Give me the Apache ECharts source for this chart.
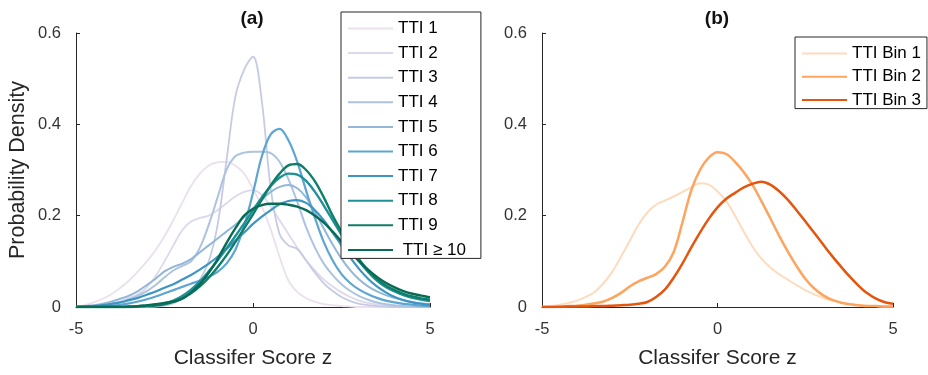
<!DOCTYPE html>
<html>
<head>
<meta charset="utf-8">
<script src="https://cdn.jsdelivr.net/npm/echarts@6/dist/echarts.min.js"></script>
<style>html,body{margin:0;padding:0;background:#fff}#c{width:928px;height:375px}</style>
</head>
<body>
<div id="c"></div>
<script>
// classifier score grid
const zGrid = [-5,-4.75,-4.5,-4.25,-4,-3.75,-3.5,-3.25,-3,-2.75,-2.5,-2.25,-2,-1.75,-1.5,-1.25,-1,-0.75,-0.5,-0.25,0,0.25,0.5,0.75,1,1.25,1.5,1.75,2,2.25,2.5,2.75,3,3.25,3.5,3.75,4,4.25,4.5,4.75,5];
const xTicks = [-5, 0, 5];
const yTicks = [0, 0.2, 0.4, 0.6];

const ttiNames = ['TTI 1','TTI 2','TTI 3','TTI 4','TTI 5','TTI 6','TTI 7','TTI 8','TTI 9',' TTI \u2265 10'];
const tti1 = [0,0.004,0.01,0.018,0.028,0.042,0.058,0.078,0.1,0.125,0.155,0.19,0.228,0.265,0.292,0.31,0.317,0.318,0.31,0.292,0.258,0.22,0.17,0.11,0.058,0.033,0.019,0.011,0.006,0.004,0.002,0.001,0,0,0,0,0,0,0,0,0];
const tti2 = [0,0,0.002,0.004,0.007,0.012,0.02,0.028,0.043,0.068,0.1,0.135,0.168,0.187,0.195,0.2,0.212,0.227,0.242,0.252,0.256,0.245,0.22,0.19,0.16,0.13,0.102,0.08,0.06,0.045,0.032,0.022,0.014,0.009,0.005,0.003,0.002,0.001,0.001,0,0];
const tti3 = [0,0,0,0,0,0,0,0,0,0.001,0.003,0.008,0.018,0.035,0.06,0.1,0.18,0.32,0.46,0.52,0.548,0.45,0.26,0.16,0.135,0.127,0.102,0.075,0.052,0.035,0.022,0.013,0.007,0.004,0.002,0.001,0,0,0,0,0];
const tti4 = [0,0.001,0.002,0.004,0.007,0.011,0.017,0.025,0.035,0.048,0.065,0.08,0.09,0.1,0.13,0.18,0.24,0.3,0.33,0.338,0.34,0.34,0.337,0.318,0.28,0.23,0.175,0.13,0.095,0.07,0.05,0.035,0.024,0.016,0.01,0.006,0.004,0.002,0.001,0,0];
const tti5 = [0,0.002,0.004,0.007,0.012,0.018,0.025,0.035,0.048,0.062,0.078,0.088,0.095,0.105,0.12,0.135,0.15,0.165,0.18,0.197,0.215,0.235,0.252,0.263,0.267,0.26,0.24,0.208,0.172,0.137,0.106,0.08,0.06,0.045,0.034,0.026,0.02,0.015,0.011,0.008,0.006];
const tti6 = [0,0.001,0.001,0.002,0.003,0.005,0.008,0.012,0.017,0.023,0.03,0.037,0.044,0.051,0.058,0.066,0.077,0.095,0.125,0.178,0.25,0.33,0.378,0.39,0.365,0.318,0.255,0.195,0.142,0.102,0.072,0.052,0.038,0.028,0.02,0.014,0.01,0.007,0.005,0.003,0.002];
const tti7 = [0,0.001,0.002,0.004,0.007,0.01,0.015,0.02,0.027,0.034,0.042,0.05,0.06,0.07,0.082,0.095,0.11,0.127,0.145,0.163,0.182,0.198,0.212,0.225,0.232,0.234,0.228,0.212,0.19,0.163,0.135,0.108,0.083,0.062,0.045,0.032,0.022,0.015,0.01,0.007,0.005];
const tti8 = [0,0,0,0,0,0,0,0.001,0.002,0.004,0.008,0.014,0.024,0.038,0.056,0.078,0.102,0.128,0.155,0.183,0.212,0.24,0.265,0.283,0.292,0.29,0.276,0.252,0.222,0.19,0.158,0.128,0.1,0.077,0.058,0.044,0.034,0.026,0.02,0.016,0.013];
const tti9 = [0,0,0,0,0,0,0,0.001,0.002,0.003,0.006,0.011,0.019,0.03,0.045,0.064,0.087,0.113,0.142,0.172,0.203,0.235,0.266,0.292,0.31,0.313,0.3,0.275,0.24,0.2,0.165,0.132,0.104,0.08,0.061,0.047,0.037,0.029,0.023,0.019,0.016];
const tti10 = [0,0,0,0,0,0,0.001,0.002,0.004,0.006,0.009,0.012,0.018,0.032,0.05,0.075,0.105,0.14,0.172,0.2,0.215,0.223,0.226,0.226,0.224,0.22,0.212,0.2,0.185,0.165,0.143,0.12,0.1,0.082,0.066,0.053,0.043,0.035,0.029,0.025,0.021];

const binNames = ['TTI Bin 1','TTI Bin 2','TTI Bin 3'];
const bin1 = [0,0.002,0.005,0.009,0.014,0.022,0.033,0.052,0.077,0.11,0.145,0.18,0.207,0.224,0.233,0.242,0.252,0.262,0.271,0.268,0.253,0.232,0.2,0.165,0.132,0.106,0.087,0.072,0.06,0.048,0.037,0.028,0.02,0.014,0.01,0.007,0.005,0.003,0.002,0.001,0.001];
const bin2 = [0,0,0.001,0.002,0.003,0.005,0.008,0.012,0.02,0.031,0.045,0.056,0.064,0.072,0.088,0.12,0.185,0.255,0.3,0.327,0.339,0.335,0.318,0.295,0.267,0.232,0.195,0.157,0.122,0.09,0.062,0.041,0.026,0.016,0.01,0.006,0.004,0.002,0.002,0.001,0.001];
const bin3 = [0,0,0,0.001,0.001,0.001,0.002,0.002,0.003,0.004,0.005,0.007,0.011,0.022,0.038,0.064,0.095,0.13,0.163,0.193,0.218,0.237,0.25,0.262,0.27,0.274,0.268,0.254,0.235,0.212,0.188,0.163,0.138,0.113,0.09,0.068,0.048,0.031,0.019,0.011,0.007];

const ttiData = [tti1,tti2,tti3,tti4,tti5,tti6,tti7,tti8,tti9,tti10];
const binData = [bin1,bin2,bin3];
const ttiColors = ['#ebe0ee','#dcd9ec','#c6cbe3','#adc3df','#92b7d9','#5ea5d1','#3e95c4','#1f8f98','#0f7e69','#086b55'];
const ttiWidths = [1.8,1.8,1.8,2,2,2.2,2.2,2.4,2.4,2.4];
const binColors = ['#fddcbd','#fda45e','#e6550d'];
const binWidths = [2,2.5,2.5];

const FONT = 'Liberation Sans, Arial, Helvetica, sans-serif';
const axisColor = '#262626';

function mkX(gi){
  return {
    type:'value', gridIndex:gi, min:-5, max:5, interval:5,
    name:'Classifer Score z', nameLocation:'middle', nameGap:41,
    nameTextStyle:{fontFamily:FONT, fontSize:21, color:'#262626'},
    axisLine:{onZero:false, lineStyle:{color:axisColor, width:1}},
    axisTick:{inside:true, length:4, lineStyle:{color:axisColor}},
    axisLabel:{fontFamily:FONT, fontSize:16.5, color:'#333', margin:14,
      customValues: xTicks, formatter: v => String(v)},
    splitLine:{show:false}
  };
}
function mkY(gi, withName){
  const o = {
    type:'value', gridIndex:gi, min:0, max:0.6, interval:0.2,
    axisLine:{show:true, onZero:false, lineStyle:{color:axisColor, width:1}},
    axisTick:{show:true, inside:true, length:4, lineStyle:{color:axisColor}},
    axisLabel:{fontFamily:FONT, fontSize:16.5, color:'#333', margin:15,
      customValues: yTicks,
      formatter: v => (Math.abs(v) < 1e-9 ? '0' : String(Math.round(v*10)/10))},
    splitLine:{show:false}
  };
  if (withName){
    o.name = 'Probability Density'; o.nameLocation = 'middle'; o.nameGap = 47;
    o.nameTextStyle = {fontFamily:FONT, fontSize:21.5, color:'#262626'};
  }
  return o;
}

const series = [];
ttiData.forEach((arr, k) => {
  series.push({
    name: ttiNames[k], type:'line', xAxisIndex:0, yAxisIndex:0,
    data: zGrid.map((z,i) => [z, arr[i]]),
    smooth: 0.35, symbol:'none', showSymbol:false,
    lineStyle:{color: ttiColors[k], width: ttiWidths[k]},
    itemStyle:{color: ttiColors[k]},
    z: 2, animation:false
  });
});
binData.forEach((arr, k) => {
  series.push({
    name: binNames[k], type:'line', xAxisIndex:1, yAxisIndex:1,
    data: zGrid.map((z,i) => [z, arr[i]]),
    smooth: 0.35, symbol:'none', showSymbol:false,
    lineStyle:{color: binColors[k], width: binWidths[k]},
    itemStyle:{color: binColors[k]},
    animation:false
  });
});

const legendCommon = {
  orient:'vertical', itemWidth:45, itemHeight:16,
  backgroundColor:'#fff', borderColor:'#262626', borderWidth:1, borderRadius:0,
  itemStyle:{opacity:0, borderWidth:0, color:'rgba(0,0,0,0)'},
  textStyle:{fontFamily:FONT, fontSize:17, color:'#000'},
  selectedMode:false, z:10
};

const chart = echarts.init(document.getElementById('c'), null, {renderer:'canvas'});
chart.setOption({
  backgroundColor:'#fff',
  animation:false,
  grid:[
    {left:76, top:33, width:354, height:274},
    {left:542, top:33, width:351, height:274}
  ],
  xAxis:[mkX(0), mkX(1)],
  yAxis:[mkY(0,true), mkY(1,false)],
  legend:[
    Object.assign({}, legendCommon, {
      data: ttiNames, left:341, top:12,
      itemGap:7.6, itemTextGap:6, padding:[8,15,0,6]
    }),
    Object.assign({}, legendCommon, {
      data: binNames, left:795, top:37,
      itemGap:6.3, itemTextGap:5, padding:[8,6,0,6]
    })
  ],
  graphic:[
    {type:'text', x:252, y:19, style:{text:'(a)', font:'bold 19px '+FONT, fill:'#111', textAlign:'center', textVerticalAlign:'middle'}},
    {type:'text', x:717, y:19, style:{text:'(b)', font:'bold 19px '+FONT, fill:'#111', textAlign:'center', textVerticalAlign:'middle'}}
  ],
  series: series
});
</script>
</body>
</html>
